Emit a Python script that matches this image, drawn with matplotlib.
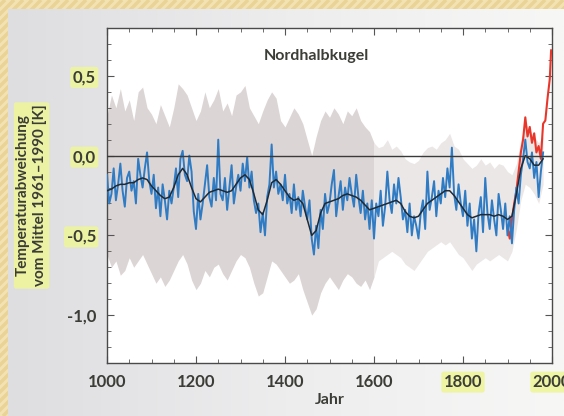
import matplotlib.pyplot as plt
import numpy as np
from matplotlib.colors import LinearSegmentedColormap

# smoothed reconstruction (black), 10-year steps from 1000
smooth_start = 1000
smooth_vals = [
    -0.22, -0.21, -0.19, -0.18, -0.18, -0.17, -0.17, -0.15, -0.14, -0.15,
    -0.19, -0.22, -0.25, -0.27, -0.26, -0.20, -0.12, -0.08, -0.12, -0.20,
    -0.27, -0.29, -0.26, -0.23, -0.22, -0.21, -0.22, -0.23, -0.22, -0.18,
    -0.14, -0.12, -0.15, -0.24, -0.34, -0.37, -0.28, -0.17, -0.15, -0.18,
    -0.22, -0.26, -0.28, -0.27, -0.30, -0.40, -0.50, -0.47, -0.36, -0.30,
    -0.29, -0.28, -0.27, -0.25, -0.24, -0.25, -0.26, -0.28, -0.31, -0.34,
    -0.33, -0.32, -0.31, -0.30, -0.29, -0.28, -0.30, -0.35, -0.38, -0.39,
    -0.38, -0.34, -0.30, -0.28, -0.26, -0.24, -0.22, -0.22, -0.25, -0.29,
    -0.33, -0.37, -0.39, -0.38, -0.37, -0.37, -0.37, -0.38, -0.37, -0.38,
    -0.40, -0.38, -0.24, -0.08, 0.00, -0.02, -0.06, -0.06, -0.02,
]

# annual reconstruction (blue), read every 5 years from 1000
annual_start = 1000
annual_vals = [
    -0.12, -0.30, -0.24, -0.08, -0.28, -0.18, -0.05, -0.22, -0.32, -0.14,
    -0.10, -0.22, -0.16, -0.30, -0.02, -0.12, -0.20, -0.08, 0.02, -0.16,
    -0.24, -0.12, -0.33, -0.20, -0.38, -0.18, -0.28, -0.40, -0.22, -0.30,
    -0.20, -0.08, -0.26, -0.02, 0.03, -0.12, -0.16, 0.00, -0.10, -0.35,
    -0.46, -0.24, -0.40, -0.30, -0.18, -0.06, -0.26, -0.32, -0.14, -0.28,
    0.10, -0.24, -0.28, -0.14, -0.34, -0.20, -0.06, -0.30, -0.20, -0.12,
    -0.22, -0.05, -0.16, -0.01, -0.20, -0.10, -0.28, -0.36, -0.30, -0.48,
    -0.36, -0.50, -0.26, -0.18, 0.07, -0.20, -0.10, -0.24, -0.18, -0.28,
    -0.12, -0.30, -0.24, -0.36, -0.18, -0.34, -0.26, -0.38, -0.22, -0.32,
    -0.40, -0.28, -0.52, -0.62, -0.44, -0.58, -0.34, -0.46, -0.24, -0.36,
    -0.30, -0.18, -0.09, -0.38, -0.26, -0.16, -0.34, -0.20, -0.28, -0.14,
    -0.24, -0.32, -0.12, -0.26, -0.36, -0.22, -0.40, -0.30, -0.46, -0.28,
    -0.52, -0.30, -0.38, -0.22, -0.44, -0.32, -0.10, -0.28, -0.36, -0.18,
    -0.30, -0.14, -0.26, -0.40, -0.34, -0.48, -0.30, -0.50, -0.38, -0.44,
    -0.52, -0.36, -0.28, -0.46, -0.10, -0.34, -0.26, -0.16, -0.38, -0.22,
    -0.30, -0.14, -0.26, -0.08, -0.20, 0.05, -0.24, -0.34, -0.18, -0.30,
    -0.38, -0.22, -0.44, -0.30, -0.52, -0.40, -0.60, -0.36, -0.26, -0.48,
    -0.14, -0.36, -0.46, -0.28, -0.40, -0.50, -0.24, -0.34, -0.46, -0.30,
    -0.50, -0.38, -0.55, -0.34, -0.20, -0.30, -0.12, -0.02, 0.10, -0.04,
    -0.08, 0.02, -0.14, -0.04, -0.26, -0.10, 0.02,
]

# uncertainty range (grey), 10-year steps from 1000
band_upper = [
    0.25, 0.38, 0.30, 0.42, 0.28, 0.35, 0.22, 0.40, 0.43, 0.30,
    0.26, 0.20, 0.32, 0.25, 0.18, 0.30, 0.45, 0.42, 0.38, 0.30,
    0.22, 0.28, 0.40, 0.30, 0.35, 0.42, 0.28, 0.33, 0.25, 0.38,
    0.40, 0.44, 0.30, 0.25, 0.20, 0.28, 0.35, 0.40, 0.36, 0.22,
    0.18, 0.24, 0.30, 0.26, 0.20, 0.10, 0.00, 0.12, 0.22, 0.28,
    0.24, 0.30, 0.26, 0.20, 0.28, 0.25, 0.30, 0.22, 0.18, 0.15,
    0.08, 0.05, 0.06, 0.10, 0.04, 0.06, 0.03, -0.02, -0.04, -0.05,
    -0.03, 0.02, 0.05, 0.06, 0.04, 0.08, 0.10, 0.14, 0.06, 0.04,
    -0.02, -0.05, -0.08, -0.06, -0.02, -0.06, -0.04, -0.08, -0.05, -0.06,
    -0.10, -0.12, -0.05, 0.10, 0.20, 0.16, 0.12, 0.08, 0.12,
]
band_lower = [
    -0.62, -0.70, -0.66, -0.75, -0.72, -0.64, -0.70, -0.66, -0.62, -0.68,
    -0.74, -0.80, -0.76, -0.82, -0.78, -0.72, -0.66, -0.62, -0.68, -0.78,
    -0.84, -0.80, -0.72, -0.76, -0.70, -0.68, -0.74, -0.78, -0.72, -0.66,
    -0.62, -0.64, -0.70, -0.80, -0.88, -0.86, -0.76, -0.66, -0.68, -0.72,
    -0.76, -0.80, -0.78, -0.74, -0.84, -0.92, -1.00, -0.96, -0.86, -0.80,
    -0.76, -0.80, -0.84, -0.78, -0.74, -0.76, -0.80, -0.82, -0.78, -0.84,
    -0.76, -0.66, -0.64, -0.62, -0.60, -0.62, -0.64, -0.68, -0.70, -0.72,
    -0.68, -0.64, -0.60, -0.58, -0.56, -0.54, -0.56, -0.54, -0.58, -0.62,
    -0.64, -0.68, -0.72, -0.68, -0.66, -0.64, -0.66, -0.64, -0.62, -0.64,
    -0.66, -0.60, -0.46, -0.28, -0.18, -0.20, -0.24, -0.30, -0.18,
]

# instrumental record (red)
instr_years = [1900, 1905, 1910, 1915, 1920, 1925, 1930, 1935, 1940, 1945,
               1950, 1955, 1960, 1965, 1970, 1975, 1980, 1985, 1990, 1995, 1998]
instr_vals = [-0.45, -0.52, -0.40, -0.30, -0.22, -0.10, 0.02, 0.10, 0.24, 0.12,
              0.18, 0.08, 0.14, 0.02, 0.06, -0.02, 0.20, 0.22, 0.36, 0.48, 0.66]

x_ticks = [1000, 1200, 1400, 1600, 1800, 2000]
y_ticks = [-1.0, -0.5, 0.0, 0.5]
y_tick_labels = ["-1,0", "-0,5", "0,0", "0,5"]
highlight_x = ["1800", "2000"]
highlight_y = ["0,5", "0,0", "-0,5"]

smooth_years = np.arange(len(smooth_vals)) * 10 + smooth_start
annual_years = np.arange(len(annual_vals)) * 5 + annual_start
band_years = np.arange(len(band_upper)) * 10 + smooth_start

plt.rcParams["font.family"] = ["Lato", "DejaVu Sans"]
text_col = "#3b3d36"
hl = dict(boxstyle="round,pad=0.15", fc="#eef59c", ec="none", alpha=0.9)

fig = plt.figure(figsize=(5.64, 4.16), dpi=100)
fig.patch.set_facecolor("#f3e3b2")

# striped frame
bg = fig.add_axes([0, 0, 1, 1])
bg.set_xlim(0, 564)
bg.set_ylim(0, 416)
bg.axis("off")
for k in range(-420, 600, 9):
    bg.plot([k, k + 416], [0, 416], color="#e9d396", lw=2.5, solid_capstyle="butt")

# slide panel
panel = fig.add_axes([8 / 564, 0, 1 - 8 / 564, 1 - 9 / 416])
grad_cmap = LinearSegmentedColormap.from_list("g", ["#dedee1", "#ededee", "#f7f7f6"])
panel.imshow(np.linspace(0, 1, 256)[None, :], aspect="auto", cmap=grad_cmap,
             extent=[0, 1, 0, 1])
panel.axis("off")

ax = fig.add_axes([107 / 564, 1 - 363 / 416, 445 / 564, 335 / 416])
ax.set_facecolor("white")

ax.fill_between(band_years, band_lower, band_upper, where=band_years <= 1600,
                color="#dcd5d5", lw=0)
ax.fill_between(band_years, band_lower, band_upper, where=band_years >= 1600,
                color="#ebe7e7", lw=0)

ax.plot(instr_years, instr_vals, color="#e8372a", lw=1.5, zorder=3)
ax.plot(annual_years, annual_vals, color="#2f7cc4", lw=1.4, zorder=4)
ax.plot(smooth_years, smooth_vals, color="#1e2a36", lw=1.1, zorder=5)
ax.axhline(0, color="#3a3a3a", lw=1.0, zorder=6)

ax.set_xlim(1000, 2000)
ax.set_ylim(-1.3, 0.8)
ax.set_xticks(x_ticks)
ax.set_xticks(np.arange(1000, 2001, 50), minor=True)
ax.set_yticks(y_ticks)
ax.set_yticklabels(y_tick_labels)
ax.set_yticks(np.arange(-1.3, 0.81, 0.1), minor=True)
ax.tick_params(which="both", direction="in", top=True, right=True,
               color="#555555", labelcolor=text_col, labelsize=12)
ax.tick_params(which="major", length=5, pad=8)
ax.tick_params(which="minor", length=3)
for lab in ax.get_xticklabels() + ax.get_yticklabels():
    lab.set_fontweight("bold")
    if lab.get_text() in highlight_x + highlight_y:
        lab.set_bbox(hl)
for s in ax.spines.values():
    s.set_color("#4a4a4a")
    s.set_linewidth(1.0)

ax.text(0.47, 0.915, "Nordhalbkugel", transform=ax.transAxes, ha="center",
        va="center", fontsize=11.5, fontweight="bold", color=text_col)
ax.set_xlabel("Jahr", fontsize=11.5, fontweight="bold", color=text_col, labelpad=2)
ax.set_ylabel("Temperaturabweichung\nvom Mittel 1961–1990 [K]", fontsize=11,
              fontweight="bold", color=text_col, labelpad=14, linespacing=1.25,
              bbox=hl)

fig.savefig("out.png", dpi=100, facecolor=fig.get_facecolor())
